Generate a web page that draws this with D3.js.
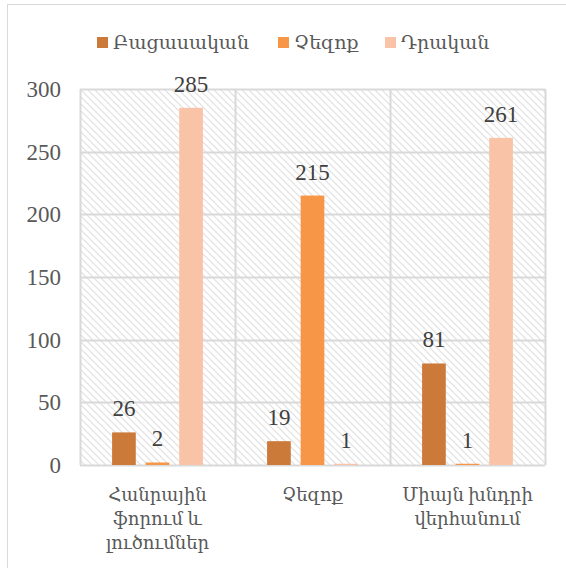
<!DOCTYPE html>
<html>
<head>
<meta charset="utf-8">
<script src="https://cdn.jsdelivr.net/npm/d3@7"></script>
<style>
  body { margin: 0; background: #fff; }
  svg text { font-family: "Liberation Serif", "DejaVu Serif", serif; }
</style>
</head>
<body>
<svg id="chart" width="566" height="568"></svg>
<script>
// data
var categories = [["Հանրային", "ֆորում և", "լուծումներ"], ["Չեզոք"], ["Միայն խնդրի", "վերհանում"]];
var seriesNames = ["Բացասական", "Չեզոք", "Դրական"];
var seriesColors = ["#cc7a3a", "#f79646", "#f9c3a8"];
var negativeValues = [26, 19, 81];
var neutralValues = [2, 215, 1];
var positiveValues = [285, 1, 261];
var yTicks = [0, 50, 100, 150, 200, 250, 300];

var values = [negativeValues, neutralValues, positiveValues];
var catKeys = categories.map(function(c) { return c.join(" "); });

var svg = d3.select("#chart"),
  margin = { top: 89, right: 21, bottom: 103, left: 80 },
  width = +svg.attr("width") - margin.left - margin.right,
  height = +svg.attr("height") - margin.top - margin.bottom;

// outer chart border
svg.append("rect")
  .attr("x", 7.5).attr("y", 4.5)
  .attr("width", 570).attr("height", 580)
  .attr("fill", "none")
  .attr("stroke", "#d9d9d9");

var defs = svg.append("defs");
var pat = defs.append("pattern")
  .attr("id", "hatch")
  .attr("patternUnits", "userSpaceOnUse")
  .attr("width", 7).attr("height", 7);
pat.append("rect").attr("width", 7).attr("height", 7).attr("fill", "#fff");
pat.append("path")
  .attr("d", "M0,0L7,7M-3.5,3.5L3.5,10.5M3.5,-3.5L10.5,3.5")
  .attr("stroke", "#e0e0e0")
  .attr("stroke-width", 1.2);

var x0 = d3.scaleBand().domain(catKeys).range([0, width]);
var inset = x0.bandwidth() * 0.207;
var x1 = d3.scaleBand().domain(seriesNames)
  .range([inset, x0.bandwidth() - inset])
  .paddingInner(0.294);
var y = d3.scaleLinear().domain([0, 300]).range([height, 0]);

var g = svg.append("g")
  .attr("transform", "translate(" + margin.left + "," + margin.top + ")");

g.append("rect")
  .attr("width", width).attr("height", height)
  .attr("fill", "url(#hatch)");

// gridlines
g.selectAll(".hgrid")
  .data(yTicks)
  .enter()
  .append("line")
  .attr("class", "hgrid")
  .attr("x1", 0).attr("x2", width)
  .attr("y1", function(d) { return Math.round(y(d)) + 0.5; })
  .attr("y2", function(d) { return Math.round(y(d)) + 0.5; })
  .attr("stroke", "#d9d9d9")
  .attr("stroke-width", 2);

var bounds = catKeys.map(function(k) { return x0(k); }).concat([width]);
g.selectAll(".vgrid")
  .data(bounds)
  .enter()
  .append("line")
  .attr("class", "vgrid")
  .attr("x1", function(d) { return Math.round(d) + 0.5; })
  .attr("x2", function(d) { return Math.round(d) + 0.5; })
  .attr("y1", 0).attr("y2", height)
  .attr("stroke", "#d9d9d9")
  .attr("stroke-width", 2);

// y axis labels
g.append("g")
  .attr("class", "y axis")
  .call(d3.axisLeft(y).tickValues(yTicks).tickSize(0).tickPadding(19))
  .call(function(a) { a.select(".domain").remove(); })
  .selectAll("text")
  .attr("font-size", 23)
  .attr("fill", "#595959")
  .attr("font-family", "Liberation Serif, DejaVu Serif, serif");

// bars
var groups = g.selectAll(".cat")
  .data(catKeys)
  .enter()
  .append("g")
  .attr("class", "cat")
  .attr("transform", function(d) { return "translate(" + x0(d) + ",0)"; });

groups.selectAll("rect")
  .data(function(d, i) {
    return seriesNames.map(function(s, j) {
      return { series: s, value: values[j][i], color: seriesColors[j] };
    });
  })
  .enter()
  .append("rect")
  .attr("x", function(d) { return x1(d.series); })
  .attr("width", x1.bandwidth())
  .attr("y", function(d) { return y(d.value); })
  .attr("height", function(d) { return height - y(d.value); })
  .attr("fill", function(d) { return d.color; });

groups.selectAll(".lbl")
  .data(function(d, i) {
    return seriesNames.map(function(s, j) {
      return { series: s, value: values[j][i] };
    });
  })
  .enter()
  .append("text")
  .attr("class", "lbl")
  .attr("x", function(d) { return x1(d.series) + x1.bandwidth() / 2; })
  .attr("y", function(d) { return y(d.value) - 16; })
  .attr("text-anchor", "middle")
  .attr("font-size", 23)
  .attr("fill", "#404040")
  .text(function(d) { return d.value; });

// category labels
categories.forEach(function(lines, i) {
  var t = g.append("text")
    .attr("x", x0(catKeys[i]) + x0.bandwidth() / 2)
    .attr("y", height + 36)
    .attr("text-anchor", "middle")
    .attr("font-size", 18)
    .attr("fill", "#595959");
  lines.forEach(function(line, k) {
    t.append("tspan")
      .attr("x", x0(catKeys[i]) + x0.bandwidth() / 2)
      .attr("dy", k === 0 ? 0 : 24)
      .text(line);
  });
});

// legend
var legendX = [97, 278, 385];
var legend = svg.selectAll(".legend")
  .data(seriesNames)
  .enter()
  .append("g")
  .attr("class", "legend")
  .attr("transform", function(d, i) { return "translate(" + legendX[i] + ",37)"; });
legend.append("rect")
  .attr("width", 11).attr("height", 11)
  .attr("fill", function(d, i) { return seriesColors[i]; });
legend.append("text")
  .attr("x", 16).attr("y", 12)
  .attr("font-size", 19)
  .attr("fill", "#595959")
  .text(function(d) { return d; });
</script>
</body>
</html>
